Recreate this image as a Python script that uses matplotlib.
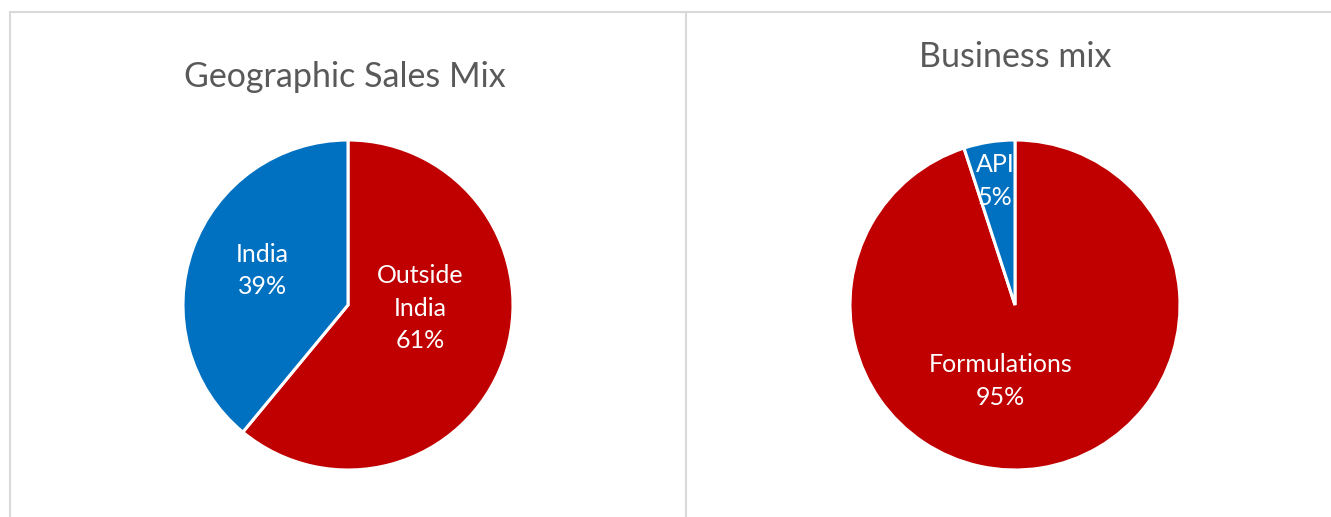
import matplotlib
matplotlib.use("Agg")
import matplotlib.pyplot as plt
from matplotlib.lines import Line2D

plt.rcParams['font.family'] = ['Lato', 'DejaVu Sans']

# data
geo_labels = ["Outside\nIndia", "India"]
geo_values = [61, 39]
biz_labels = ["Formulations", "API"]
biz_values = [95, 5]

RED = "#C00000"
BLUE = "#0070C0"
GRID = "#D9D9D9"
TITLE = "#595959"

W, H = 1331, 517
fig = plt.figure(figsize=(W / 100, H / 100), dpi=100)


def pie_axes(cx, cy, r):
    # cx, cy, r in pixels (y from top)
    return fig.add_axes([(cx - r) / W, (H - cy - r) / H, 2 * r / W, 2 * r / H])


def draw_pie(ax, values, labels, label_pos):
    ax.pie(values, colors=[RED, BLUE], startangle=90, counterclock=False,
           wedgeprops=dict(edgecolor="white", linewidth=2.2, joinstyle="miter"))
    for lab, val, (x, y) in zip(labels, values, label_pos):
        ax.text(x, y, f"{lab}\n{val}%", color="white", fontsize=18,
                ha="center", va="center", linespacing=1.5)
    ax.set_xlim(-1, 1)
    ax.set_ylim(-1, 1)
    ax.axis("off")


ax1 = pie_axes(348, 305, 165)
draw_pie(ax1, geo_values, geo_labels, [(0.44, -0.02), (-0.52, 0.21)])

ax2 = pie_axes(1015, 305, 165)
draw_pie(ax2, biz_values, biz_labels, [(-0.09, -0.46), (-0.12, 0.75)])

fig.text(345 / W, 1 - 77 / H, "Geographic Sales Mix", color=TITLE, fontsize=24.5,
         ha="center", va="center")
fig.text(1015 / W, 1 - 57 / H, "Business mix", color=TITLE, fontsize=24.5,
         ha="center", va="center")

# panel borders
for xs, ys in [((10, W), (12, 12)), ((10, 10), (12, H)), ((686, 686), (12, H))]:
    fig.add_artist(Line2D([x / W for x in xs], [1 - y / H for y in ys],
                          color=GRID, linewidth=1.5, transform=fig.transFigure))

fig.savefig("out.png", dpi=100)
